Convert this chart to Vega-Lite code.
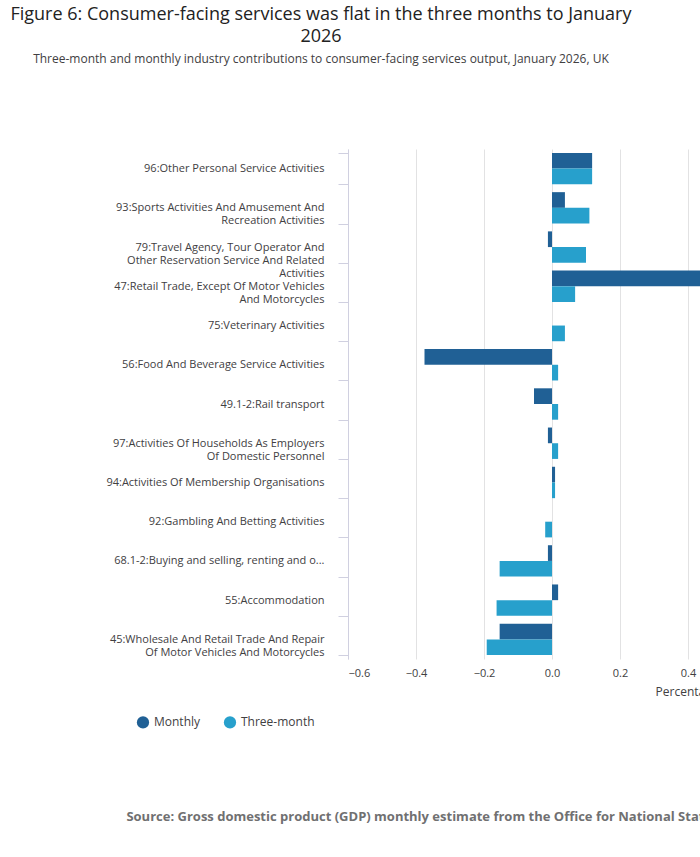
{
  "$schema": "https://vega.github.io/schema/vega-lite/v6.json",
  "background": "white",
  "padding": {"left": 10, "top": 6, "right": 30, "bottom": 10},
  "title": {
    "text": ["Figure 6: Consumer-facing services was flat in the three months to January", "2026"],
    "subtitle": "Three-month and monthly industry contributions to consumer-facing services output, January 2026, UK",
    "font": "Open Sans",
    "subtitleFont": "Open Sans",
    "fontSize": 18,
    "fontWeight": "normal",
    "color": "#222222",
    "subtitleFontSize": 12,
    "subtitleColor": "#414042",
    "subtitlePadding": 8,
    "lineHeight": 22,
    "offset": 78,
    "anchor": "middle",
    "dx": -110
  },
  "datasets": {
    "rows": [
      {"industry": "96:Other Personal Service Activities", "series": "Monthly", "value": 0.118},
      {"industry": "96:Other Personal Service Activities", "series": "Three-month", "value": 0.118},
      {"industry": "93:Sports Activities And Amusement And|Recreation Activities", "series": "Monthly", "value": 0.038},
      {"industry": "93:Sports Activities And Amusement And|Recreation Activities", "series": "Three-month", "value": 0.11},
      {"industry": "79:Travel Agency, Tour Operator And|Other Reservation Service And Related|Activities", "series": "Monthly", "value": -0.012},
      {"industry": "79:Travel Agency, Tour Operator And|Other Reservation Service And Related|Activities", "series": "Three-month", "value": 0.1},
      {"industry": "47:Retail Trade, Except Of Motor Vehicles|And Motorcycles", "series": "Monthly", "value": 0.544},
      {"industry": "47:Retail Trade, Except Of Motor Vehicles|And Motorcycles", "series": "Three-month", "value": 0.068},
      {"industry": "75:Veterinary Activities", "series": "Monthly", "value": 0},
      {"industry": "75:Veterinary Activities", "series": "Three-month", "value": 0.038},
      {"industry": "56:Food And Beverage Service Activities", "series": "Monthly", "value": -0.375},
      {"industry": "56:Food And Beverage Service Activities", "series": "Three-month", "value": 0.018},
      {"industry": "49.1-2:Rail transport", "series": "Monthly", "value": -0.053},
      {"industry": "49.1-2:Rail transport", "series": "Three-month", "value": 0.018},
      {"industry": "97:Activities Of Households As Employers|Of Domestic Personnel", "series": "Monthly", "value": -0.012},
      {"industry": "97:Activities Of Households As Employers|Of Domestic Personnel", "series": "Three-month", "value": 0.018},
      {"industry": "94:Activities Of Membership Organisations", "series": "Monthly", "value": 0.009},
      {"industry": "94:Activities Of Membership Organisations", "series": "Three-month", "value": 0.009},
      {"industry": "92:Gambling And Betting Activities", "series": "Monthly", "value": 0},
      {"industry": "92:Gambling And Betting Activities", "series": "Three-month", "value": -0.02},
      {"industry": "68.1-2:Buying and selling, renting and o...", "series": "Monthly", "value": -0.012},
      {"industry": "68.1-2:Buying and selling, renting and o...", "series": "Three-month", "value": -0.154},
      {"industry": "55:Accommodation", "series": "Monthly", "value": 0.018},
      {"industry": "55:Accommodation", "series": "Three-month", "value": -0.163},
      {"industry": "45:Wholesale And Retail Trade And Repair|Of Motor Vehicles And Motorcycles", "series": "Monthly", "value": -0.154},
      {"industry": "45:Wholesale And Retail Trade And Repair|Of Motor Vehicles And Motorcycles", "series": "Three-month", "value": -0.192}
    ],
    "source": [{"t": "Source: Gross domestic product (GDP) monthly estimate from the Office for National Statistics"}]
  },
  "config": {
    "font": "Open Sans",
    "view": {"stroke": null},
    "axis": {"labelFont": "Open Sans", "titleFont": "Open Sans", "labelColor": "#414042", "titleColor": "#414042", "labelFontSize": 11, "titleFontSize": 12, "titleFontWeight": "normal"}
  },
  "vconcat": [
    {
      "data": {"name": "rows"},
      "width": 408,
      "height": 510,
      "mark": {"type": "bar"},
      "encoding": {
        "y": {
          "field": "industry",
          "type": "nominal",
          "sort": null,
          "scale": {"paddingInner": 0.2, "paddingOuter": 0.1},
          "axis": {
            "title": null,
            "labelExpr": "split(datum.label, '|')",
            "labelLimit": 240,
            "labelPadding": 14,
            "domain": true,
            "domainColor": "#d0d0e0",
            "ticks": true,
            "tickBand": "extent",
            "tickSize": 10,
            "tickColor": "#d0d0e0",
            "labelFontSize": 11
          }
        },
        "yOffset": {"field": "series", "type": "nominal", "sort": ["Monthly", "Three-month"]},
        "x": {
          "field": "value",
          "type": "quantitative",
          "scale": {"domain": [-0.6, 0.6]},
          "axis": {
            "title": "Percentage points",
            "titleAnchor": "end",
            "titlePadding": 8,
            "values": [-0.6, -0.4, -0.2, 0, 0.2, 0.4, 0.6],
            "grid": true,
            "gridColor": "#e2e2e3",
            "domain": false,
            "ticks": false,
            "labelPadding": 8
          }
        },
        "color": {
          "field": "series",
          "type": "nominal",
          "scale": {"domain": ["Monthly", "Three-month"], "range": ["#206095", "#27a0cc"]},
          "legend": {
            "title": null,
            "orient": "none",
            "direction": "horizontal",
            "symbolType": "circle",
            "symbolSize": 150,
            "labelFontSize": 12,
            "labelColor": "#414042",
            "columnPadding": 22,
            "legendX": -212,
            "legendY": 566
          }
        }
      }
    },
    {
      "data": {"name": "source"},
      "width": 408,
      "height": 20,
      "mark": {"type": "text", "font": "Open Sans", "fontSize": 13, "fontWeight": "bold", "color": "#707071", "align": "center", "dx": -120},
      "encoding": {"text": {"field": "t"}}
    }
  ],
  "spacing": 110
}
